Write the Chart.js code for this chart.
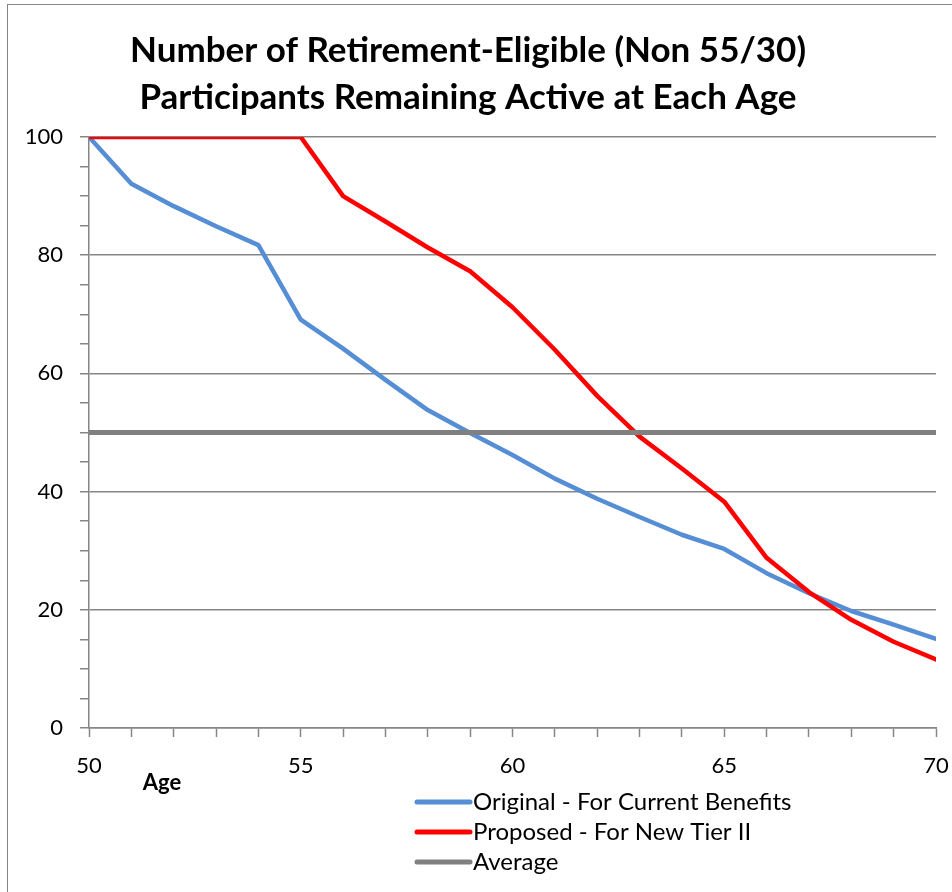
<!DOCTYPE html>
<html>
<head>
<meta charset="utf-8">
<script src="https://cdn.jsdelivr.net/npm/chart.js@4.4.0/dist/chart.umd.min.js"></script>
<style>
  html, body { margin: 0; padding: 0; background: #ffffff; }
  #wrap { position: relative; width: 952px; height: 892px; }
</style>
</head>
<body>
<div id="wrap"><canvas id="chart" width="952" height="892"></canvas></div>
<script>
// Ages on the horizontal axis
const ages = [50, 51, 52, 53, 54, 55, 56, 57, 58, 59, 60, 61, 62, 63, 64, 65, 66, 67, 68, 69, 70];

// Participants remaining active (per 100 eligible) at each age
const originalCurrent = [100, 92.1, 88.3, 84.9, 81.7, 69.1, 64.2, 58.9, 53.8, 49.9, 46.2, 42.2, 38.8, 35.7, 32.7, 30.3, 26.2, 22.8, 19.8, 17.5, 15.1];
const proposedTierII = [100, 100, 100, 100, 100, 100, 90.0, 85.7, 81.3, 77.3, 71.2, 64.0, 56.2, 49.3, 43.9, 38.3, 28.8, 23.0, 18.3, 14.6, 11.6];
const averageLevel = [50, 50, 50, 50, 50, 50, 50, 50, 50, 50, 50, 50, 50, 50, 50, 50, 50, 50, 50, 50, 50];

const seriesNames = ['Original - For Current Benefits', 'Proposed - For New Tier II', 'Average'];
const titleLines = ['Number of Retirement-Eligible (Non 55/30)', 'Participants Remaining Active at Each Age'];
const xAxisName = 'Age';

const GRID = '#868686';
const FONT = 'Lato, "Open Sans", sans-serif';

function toPoints(values) {
  return ages.map((a, i) => ({ x: a, y: values[i] }));
}

// Outer frame of the chart object
const framePlugin = {
  id: 'frame',
  beforeDraw(chart) {
    const ctx = chart.ctx;
    ctx.save();
    ctx.strokeStyle = GRID;
    ctx.lineWidth = 1;
    ctx.strokeRect(7.5, 4.5, 2000, 2000);
    ctx.restore();
  }
};

// Axis name and stacked legend drawn under the plot
const bottomPlugin = {
  id: 'bottomTexts',
  afterDraw(chart) {
    const ctx = chart.ctx;
    const area = chart.chartArea;
    ctx.save();
    ctx.fillStyle = '#000';
    ctx.font = 'bold 22px ' + FONT;
    ctx.textAlign = 'center';
    ctx.textBaseline = 'middle';
    ctx.fillText(xAxisName, area.left + 73, area.bottom + 55);

    ctx.font = '24px ' + FONT;
    ctx.textAlign = 'left';
    chart.data.datasets.forEach((ds, i) => {
      const y = area.bottom + 74 + i * 30;
      ctx.strokeStyle = ds.borderColor;
      ctx.lineWidth = 5;
      ctx.lineCap = 'round';
      ctx.beginPath();
      ctx.moveTo(417, y);
      ctx.lineTo(470, y);
      ctx.stroke();
      ctx.fillStyle = '#000';
      ctx.fillText(ds.label, 473, y);
    });
    ctx.restore();
  }
};

new Chart(document.getElementById('chart'), {
  type: 'line',
  data: {
    datasets: [
      { label: seriesNames[0], data: toPoints(originalCurrent), borderColor: '#558ed5', borderWidth: 4.5, order: 2 },
      { label: seriesNames[1], data: toPoints(proposedTierII), borderColor: '#ff0000', borderWidth: 4.5, order: 1 },
      { label: seriesNames[2], data: toPoints(averageLevel), borderColor: '#808080', borderWidth: 5, order: 0 }
    ]
  },
  options: {
    responsive: false,
    animation: false,
    devicePixelRatio: 1,
    layout: { padding: { left: 0, right: 16, top: 0, bottom: 0 } },
    elements: {
      point: { radius: 0, hoverRadius: 0 },
      line: { tension: 0, borderCapStyle: 'round', borderJoinStyle: 'round', fill: false }
    },
    plugins: {
      legend: { display: false },
      tooltip: { enabled: false },
      title: {
        display: true,
        text: titleLines,
        color: '#000',
        font: { family: FONT, size: 35, weight: 'bold', lineHeight: 1.343 },
        padding: { top: 27, bottom: 16 }
      }
    },
    scales: {
      x: {
        type: 'linear',
        min: 50,
        max: 70,
        afterFit(scale) {
          scale.height = 164;
          scale.paddingLeft = 0;
          scale.paddingRight = 0;
        },
        border: { display: true, color: GRID, width: 1.5 },
        grid: { drawOnChartArea: false, color: GRID, tickLength: 9, tickWidth: 1.5 },
        ticks: {
          stepSize: 1,
          color: '#000',
          font: { family: FONT, size: 22 },
          padding: 16,
          maxRotation: 0,
          autoSkip: false,
          callback: (v) => (v % 5 === 0 ? String(v) : '')
        }
      },
      y: {
        min: 0,
        max: 100,
        afterFit(scale) { scale.width = 89; },
        border: { display: true, color: GRID, width: 1.5 },
        grid: {
          color: (c) => (c.tick && c.tick.value % 20 === 0 ? GRID : 'rgba(0,0,0,0)'),
          tickColor: GRID,
          lineWidth: 1.5,
          tickLength: 9,
          tickWidth: 1.5
        },
        ticks: {
          stepSize: 5,
          color: '#000',
          font: { family: FONT, size: 22 },
          padding: 17,
          autoSkip: false,
          callback: (v) => (v % 20 === 0 ? String(v) : '')
        }
      }
    }
  },
  plugins: [framePlugin, bottomPlugin]
});
</script>
</body>
</html>
